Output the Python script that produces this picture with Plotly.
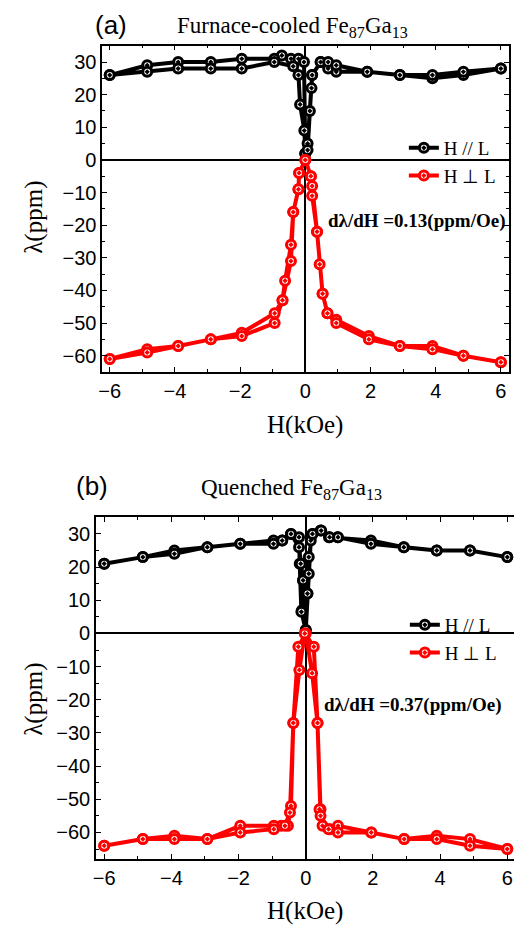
import plotly.graph_objects as go

W, H = 514, 926

# ---------------- data (H in kOe, lambda in ppm) ----------------
# (a) Furnace-cooled, H // L : descending branch then ascending branch
fc_par_x = [6, 4.85, 3.9, 2.9, 1.9, 0.95, 0.7, 0.47, 0.21, 0.07, 0.0, -0.03, -0.16, -0.21, -0.44, -0.72, -0.95, -1.95, -2.9, -3.9, -4.85, -6,
            -6, -4.85, -3.9, -2.9, -1.95, -0.95, -0.37, -0.21, -0.04, 0.0, 0.07, 0.14, 0.19, 0.21, 0.47, 0.7, 0.95, 1.9, 2.9, 3.9, 4.85, 6]
fc_par_y = [28, 26, 25, 26, 27, 27, 28, 30, 26, 5, 2, 9, 17, 26, 31, 32, 31, 31, 30, 30, 29, 26,
            26, 27, 28, 28, 28, 30, 28.7, 31, 30, 2, 3, 15, 22, 26, 30, 30, 29, 27, 26, 26, 27, 28]

# (a) Furnace-cooled, H perp L
fc_perp_x = [6, 4.85, 3.9, 2.9, 1.95, 0.95, 0.68, 0.53, 0.36, 0.21, 0.17, 0.0, -0.19, -0.21, -0.37, -0.44, -0.62, -0.70, -0.94, -1.95, -2.9, -3.9, -4.85, -6,
             -6, -4.85, -3.9, -2.9, -1.95, -0.94, -0.70, -0.44, -0.37, -0.21, -0.19, 0.0, 0.17, 0.21, 0.36, 0.44, 0.53, 0.68, 0.95, 1.95, 2.9, 3.9, 4.85, 6]
fc_perp_y = [-62, -60, -57, -57, -54, -49, -47, -41, -22, -11, -5, 0, -4, -9, -16, -26, -37, -43, -47, -53, -55, -57, -58, -61,
             -61, -59, -57, -55, -54, -50, -43, -31, -16, -9, -4, 0, -5, -8, -22, -32, -41, -47, -50, -55, -57, -58, -60, -62]

# (b) Quenched, H // L
q_par_x = [6, 4.89, 3.9, 2.92, 1.94, 0.95, 0.69, 0.44, 0.2, 0.09, 0.05, -0.08, -0.11, 0.0, -0.13, -0.18, -0.2, -0.44, -0.70, -0.96, -1.95, -2.93, -3.91, -4.85, -6,
           -6, -4.85, -3.91, -2.93, -1.95, -0.96, -0.70, -0.44, -0.2, -0.15, -0.08, 0.0, 0.05, 0.09, 0.15, 0.2, 0.46, 0.71, 0.96, 1.94, 2.92, 3.9, 4.89, 6]
q_par_y = [23, 25, 25, 26, 28, 29, 29, 31, 30, 23, 12, 16, 7, 1, 6.5, 21, 29, 30, 28, 28, 27, 26, 25, 23, 21,
           21, 23, 24, 26, 27, 27, 28, 30, 26, 21, 16, 1, 12, 18, 28, 30, 31, 29, 29, 27, 26, 25, 25, 23]

# (b) Quenched, H perp L
q_perp_x = [6, 4.89, 3.9, 2.93, 1.95, 0.96, 0.72, 0.5, 0.44, 0.35, 0.19, 0.0, -0.22, -0.37, -0.44, -0.53, -0.73, -0.95, -1.95, -2.93, -3.91, -4.85, -6,
            -6, -4.85, -3.91, -2.93, -1.95, -0.95, -0.62, -0.47, -0.37, -0.19, -0.03, 0.24, 0.35, 0.41, 0.44, 0.68, 0.96, 1.95, 2.93, 3.9, 4.89, 6]
q_perp_y = [-65, -62, -61, -62, -60, -58, -59, -58, -53, -27, -12, 0, -4, -27, -52, -58, -58, -58, -58, -62, -61, -62, -64,
            -64, -62, -62, -62, -60, -59, -58, -54, -27, -11, 0, -4, -27, -53, -55, -59, -60, -60, -62, -62, -64, -65]

x_ticks = [-6, -4, -2, 0, 2, 4, 6]
y_ticks = [-60, -50, -40, -30, -20, -10, 0, 10, 20, 30]

labels = ["H // L", "H \u22a5 L"]
colors = ["black", "red"]

SANS = "Liberation Sans, Arial, sans-serif"
SERIF = "Liberation Serif, Times New Roman, serif"


def px_x(p):
    return p / W


def px_y(p):
    return 1 - p / H


fig = go.Figure()


def add_series(x, y, color, name, xa, ya, legend, show):
    fig.add_trace(go.Scatter(
        x=x, y=y, mode="lines+markers", name=name,
        line=dict(color=color, width=4),
        marker=dict(symbol="circle-dot", size=9, color="white",
                    line=dict(color=color, width=3)),
        xaxis=xa, yaxis=ya, legend=legend, showlegend=show))


add_series(fc_par_x, fc_par_y, colors[0], labels[0], "x", "y", "legend", True)
add_series(fc_perp_x, fc_perp_y, colors[1], labels[1], "x", "y", "legend", True)
add_series(q_par_x, q_par_y, colors[0], labels[0], "x2", "y2", "legend2", True)
add_series(q_perp_x, q_perp_y, colors[1], labels[1], "x2", "y2", "legend2", True)

axis_common = dict(
    showline=True, linecolor="black", linewidth=1.5,
    ticks="inside", ticklen=5, tickwidth=1.2, tickcolor="black",
    showgrid=False, zeroline=True, zerolinecolor="black", zerolinewidth=1.5,
    tickfont=dict(family=SANS, size=20, color="black"),
    minor=dict(ticks="inside", ticklen=3, tickwidth=1.2, tickcolor="black"),
)

fig.update_layout(
    width=W, height=H,
    margin=dict(l=0, r=0, t=0, b=0),
    paper_bgcolor="white", plot_bgcolor="white",
    xaxis=dict(domain=[px_x(99), px_x(509)], range=[-6.23, 6.25], anchor="y",
               tickvals=x_ticks, mirror="ticks", minor_dtick=1, **axis_common),
    yaxis=dict(domain=[px_y(372), px_y(45.7)], range=[-65, 35], anchor="x",
               tickvals=y_ticks, mirror="ticks", minor_dtick=5, **axis_common),
    xaxis2=dict(domain=[px_x(92.7), 1.0], range=[-6.245, 6.2], anchor="y2",
                tickvals=x_ticks, mirror="ticks", minor_dtick=1, **axis_common),
    yaxis2=dict(domain=[px_y(859), px_y(517.3)], range=[-68, 35], anchor="x2",
                tickvals=y_ticks, mirror=False, minor_dtick=5, **axis_common),
    legend=dict(x=px_x(403), y=px_y(129), xanchor="left", yanchor="top",
                bgcolor="rgba(0,0,0,0)", borderwidth=0,
                font=dict(family=SERIF, size=19, color="black"), tracegroupgap=0),
    legend2=dict(x=px_x(404), y=px_y(606), xanchor="left", yanchor="top",
                 bgcolor="rgba(0,0,0,0)", borderwidth=0,
                 font=dict(family=SERIF, size=19, color="black"), tracegroupgap=0),
)

ann = []


def text(xp, yp, s, font, size, xanchor="center", angle=0, bold=False):
    ann.append(dict(x=px_x(xp), y=px_y(yp), xref="paper", yref="paper",
                    text=("<b>%s</b>" % s) if bold else s, showarrow=False,
                    xanchor=xanchor, yanchor="middle", textangle=angle,
                    font=dict(family=font, size=size, color="black")))


# panel labels and titles
text(108, 25, "(a)", SANS, 26)
text(172, 27, "Furnace-cooled Fe<sub>87</sub>Ga<sub>13</sub>", SERIF, 23, xanchor="left")
text(89, 486, "(b)", SANS, 26)
text(197, 489, "Quenched Fe<sub>87</sub>Ga<sub>13</sub>", SERIF, 23, xanchor="left")
# axis titles
text(30, 217, "\u03bb(ppm)", SERIF, 25, angle=-90)
text(303, 425, "H(kOe)", SERIF, 25)
text(30, 699, "\u03bb(ppm)", SERIF, 25, angle=-90)
text(303, 911, "H(kOe)", SERIF, 25)
# slope annotations
text(325, 221, "d\u03bb/dH =0.13(ppm/Oe)", SERIF, 19, xanchor="left", bold=True)
text(320, 705, "d\u03bb/dH =0.37(ppm/Oe)", SERIF, 19, xanchor="left", bold=True)

fig.update_layout(annotations=ann)

fig.write_html("out.html")
